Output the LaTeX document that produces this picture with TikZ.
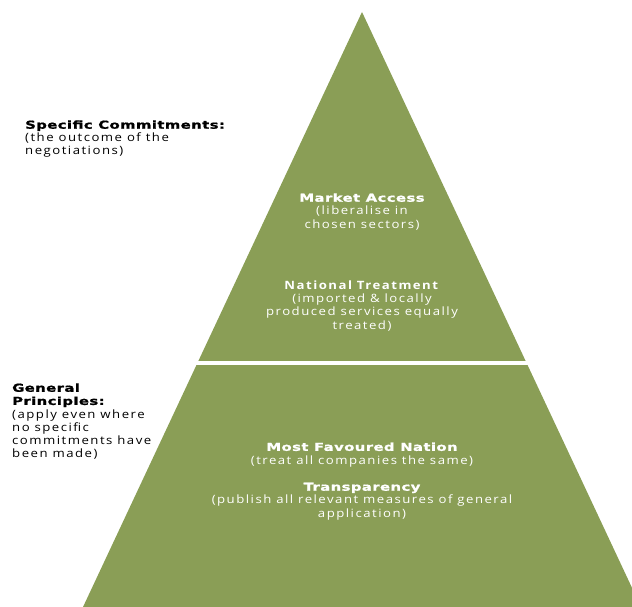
\documentclass[tikz,border=0pt]{standalone}
\usepackage{fontspec}
\setmainfont[FakeStretch=1.15,LetterSpace=13]{Open Sans}
\newfontfamily\headfont[FakeStretch=1.35,LetterSpace=4,FakeBold=1.2]{DejaVu Sans}
\usepackage{tikz}
\usetikzlibrary{calc}
\definecolor{pyrgreen}{RGB}{138,158,86}

\tikzset{
	body/.style={inner sep=0pt, align=center, font=\fontsize{11.5}{13.2}\selectfont},
	side/.style={body, align=left, anchor=base west, text=black},
	tier/.style={body, anchor=base, text=white},
}
\newcommand{\hd}[1]{{\headfont\fontsize{11}{13.2}\selectfont\bfseries #1}}

\begin{document}
\begin{tikzpicture}[x=1bp,y=-1bp]
	
	\useasboundingbox (0,0) rectangle (632,607);
	
	\coordinate (apex) at (362,12);
	\coordinate (bl) at (83,607);
	\coordinate (br) at (641,607);
	\coordinate (gl) at (150,363);
	\coordinate (gr) at (600,363);
	
	\begin{scope}
		\clip (0,0) rectangle (632,607);
		\fill[pyrgreen] (apex) -- (bl) -- (br) -- cycle;
	\end{scope}
	\draw[white, line width=4bp] (gl) -- (gr);
	
	% base anchor sits on the last line
	\node[side] (spec) at (25,155) {\hd{Specific Commitments:}\\(the outcome of the\\negotiations)};
	\node[side] (gen) at (12,457.5) {\hd{General}\\\hd{Principles:}\\(apply even where\\no specific\\commitments have\\been made)};
	
	\node[tier] (market) at (362,228) {\hd{Market Access}\\(liberalise in\\chosen sectors)};
	\node[tier] (national) at (362,329) {\textbf{National Treatment}\\(imported \& locally\\produced services equally\\treated)};
	\node[tier] (mfn) at (362,464) {\hd{Most Favoured Nation}\\(treat all companies the same)};
	\node[tier] (transp) at (362,517) {\hd{Transparency}\\(publish all relevant measures of general\\application)};
	
\end{tikzpicture}
\end{document}
